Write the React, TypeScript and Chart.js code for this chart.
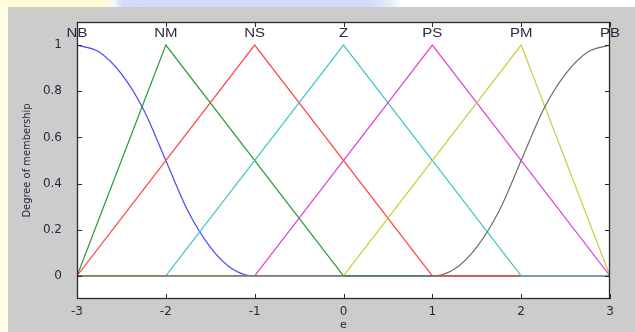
import React, { useEffect, useRef } from 'react';
import { Chart, registerables } from 'chart.js';

Chart.register(...registerables);

// ---- data ----
const mfNames = ['NB', 'NM', 'NS', 'Z', 'PS', 'PM', 'PB'];
const mfPeaks = [-3, -2, -1, 0, 1, 2, 3];
const mfColors = ['#4848ff', '#30993a', '#ff4444', '#40c8c8', '#dc44dc', '#cccc40', '#6e6e6e'];

const nbX = [-3, -2.75, -2.5, -2.25, -2, -1.75, -1.5, -1.25, -1, 3];
const nbY = [1, 0.97, 0.875, 0.72, 0.5, 0.28, 0.125, 0.03, 0, 0];
const nmX = [-3, -2, 0, 3];
const nmY = [0, 1, 0, 0];
const nsX = [-3, -1, 1, 3];
const nsY = [0, 1, 0, 0];
const zX = [-3, -2, 0, 2, 3];
const zY = [0, 0, 1, 0, 0];
const psX = [-3, -1, 1, 3];
const psY = [0, 0, 1, 0];
const pmX = [-3, 0, 2, 3];
const pmY = [0, 0, 1, 0];
const pbX = [-3, 1, 1.25, 1.5, 1.75, 2, 2.25, 2.5, 2.75, 3];
const pbY = [0, 0, 0.03, 0.125, 0.28, 0.5, 0.72, 0.875, 0.97, 1];

const seriesX = [nbX, nmX, nsX, zX, psX, pmX, pbX];
const seriesY = [nbY, nmY, nsY, zY, psY, pmY, pbY];
const curved = [true, false, false, false, false, false, true];

const xTicks = [-3, -2, -1, 0, 1, 2, 3];
const xTickLabels = ['-3', '-2', '-1', '0', '1', '2', '3'];
const yTicks = [0, 0.2, 0.4, 0.6, 0.8, 1];
const yTickLabels = ['0', '0.2', '0.4', '0.6', '0.8', '1'];
const xTitle = 'e';
const yTitle = 'Degree of membership';
const labelLevel = 1.05;

const textColor = '#2c2642';
const frameColor = '#2a2a2a';

const decorPlugin = {
  id: 'decor',
  beforeDraw(chart: any) {
    const { ctx, chartArea } = chart;
    ctx.save();
    ctx.fillStyle = '#cccccc';
    ctx.fillRect(0, 0, chart.width, chart.height);
    ctx.fillStyle = '#ffffff';
    ctx.fillRect(chartArea.left, chartArea.top, chartArea.right - chartArea.left, chartArea.bottom - chartArea.top);
    ctx.restore();
  },
  afterDraw(chart: any) {
    const { ctx, chartArea } = chart;
    const xs = chart.scales.x;
    const ys = chart.scales.y;
    const { left, right, top, bottom } = chartArea;
    ctx.save();
    ctx.strokeStyle = frameColor;
    ctx.lineWidth = 1;
    const tl = 5;
    ctx.beginPath();
    xTicks.forEach((v) => {
      const px = Math.round(xs.getPixelForValue(v)) + 0.5;
      ctx.moveTo(px, bottom);
      ctx.lineTo(px, bottom - tl);
      ctx.moveTo(px, top);
      ctx.lineTo(px, top + tl);
    });
    yTicks.forEach((v) => {
      const py = Math.round(ys.getPixelForValue(v)) + 0.5;
      ctx.moveTo(left, py);
      ctx.lineTo(left + tl, py);
      ctx.moveTo(right, py);
      ctx.lineTo(right - tl, py);
    });
    ctx.stroke();
    ctx.lineWidth = 1.3;
    ctx.strokeRect(Math.round(left) + 0.5, Math.round(top) + 0.5, Math.round(right - left) - 1, Math.round(bottom - top) - 1);

    ctx.fillStyle = textColor;
    ctx.font = '12px "Liberation Sans", Arial, sans-serif';
    ctx.textAlign = 'center';
    ctx.textBaseline = 'middle';
    mfNames.forEach((name, i) => {
      const px = xs.getPixelForValue(mfPeaks[i]);
      const py = ys.getPixelForValue(labelLevel);
      ctx.save();
      ctx.translate(px, py);
      ctx.scale(1.25, 1);
      ctx.fillText(name, 0, 0);
      ctx.restore();
    });
    ctx.restore();
  },
};

export default function App() {
  const ref = useRef<HTMLCanvasElement | null>(null);

  useEffect(() => {
    if (!ref.current) return;
    const datasets = mfNames.map((name, i) => ({
      label: name,
      data: seriesX[i].map((x, j) => ({ x, y: seriesY[i][j] })),
      borderColor: mfColors[i],
      backgroundColor: mfColors[i],
      borderWidth: 1.2,
      pointRadius: 0,
      fill: false,
      tension: 0,
      cubicInterpolationMode: curved[i] ? ('monotone' as const) : ('default' as const),
      order: mfNames.length - 1 - i,
    }));

    const chart = new Chart(ref.current, {
      type: 'line',
      data: { datasets },
      plugins: [decorPlugin],
      options: {
        animation: false,
        responsive: false,
        devicePixelRatio: 1,
        layout: { padding: { top: 15, right: 25, left: 0, bottom: 0 } },
        plugins: { legend: { display: false }, tooltip: { enabled: false } },
        scales: {
          x: {
            type: 'linear',
            min: -3,
            max: 3,
            afterBuildTicks: (s: any) => {
              s.ticks = xTicks.map((v) => ({ value: v }));
            },
            afterFit: (s: any) => {
              s.height = 33;
            },
            grid: { display: false },
            border: { display: false },
            ticks: {
              autoSkip: false,
              maxRotation: 0,
              padding: -2,
              color: textColor,
              font: { family: '"DejaVu Sans"', size: 12 },
              callback: (v: any) => {
                const k = xTicks.indexOf(Number(v));
                return k >= 0 ? xTickLabels[k] : '';
              },
            },
            title: {
              display: true,
              text: xTitle,
              color: textColor,
              font: { family: '"DejaVu Sans"', size: 11 },
              padding: { top: 0, bottom: 0 },
            },
          },
          y: {
            type: 'linear',
            min: -0.1,
            max: 1.1,
            afterBuildTicks: (s: any) => {
              s.ticks = yTicks.map((v) => ({ value: v }));
            },
            afterFit: (s: any) => {
              s.width = 69;
            },
            grid: { display: false },
            border: { display: false },
            ticks: {
              autoSkip: false,
              padding: 7,
              color: textColor,
              font: { family: '"DejaVu Sans"', size: 12 },
              callback: (v: any) => {
                const k = yTicks.indexOf(Number(v));
                return k >= 0 ? yTickLabels[k] : '';
              },
            },
            title: {
              display: true,
              text: yTitle,
              color: textColor,
              font: { family: '"DejaVu Sans Condensed", "Liberation Sans Narrow", "Liberation Sans", sans-serif', size: 11 },
              padding: { top: 13, bottom: 0 },
            },
          },
        },
      },
    });
    return () => chart.destroy();
  }, []);

  return (
    <div style={{ position: 'fixed', left: 0, top: 0, width: 635, height: 332, overflow: 'hidden', background: '#ffffff' }}>
      <div
        style={{
          position: 'absolute', left: 0, top: 0, width: 635, height: 7,
          background: 'linear-gradient(to right, #fffbd6 0px, #fffbd6 106px, #f6f6fa 114px, #d4dcf8 122px, #d2dbf8 370px, #e4ecfc 390px, #ffffff 402px, #ffffff 635px)',
        }}
      />
      <div style={{ position: 'absolute', left: 0, top: 7, width: 8, height: 325, background: '#fffde4' }} />
      <div style={{ position: 'absolute', left: 8, top: 7, width: 627, height: 325 }}>
        <canvas ref={ref} width={627} height={325} style={{ display: 'block', width: 627, height: 325 }} />
      </div>
    </div>
  );
}
